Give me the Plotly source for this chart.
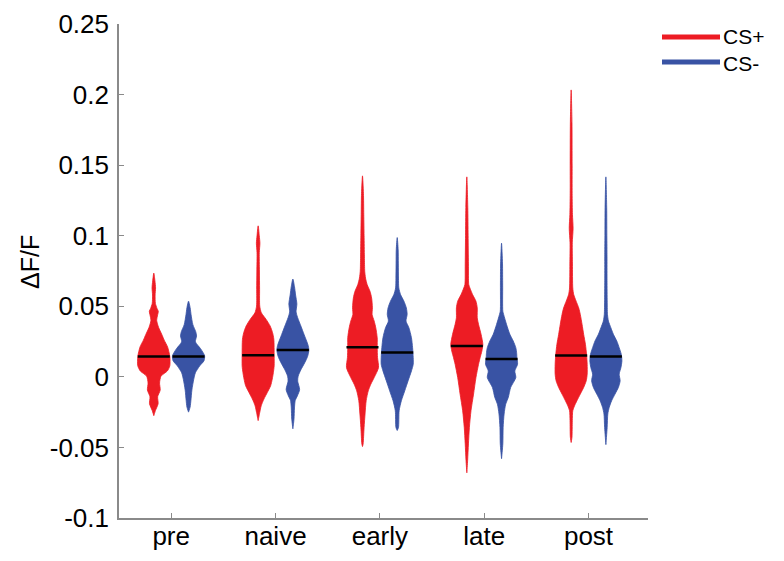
import plotly.graph_objects as go

# Imaging phases on the x axis
phases = ["pre", "naive", "early", "late", "post"]

# y axis ticks
y_ticks = [0.25, 0.2, 0.15, 0.1, 0.05, 0, -0.05, -0.1]
y_tick_text = ["0.25", "0.2", "0.15", "0.1", "0.05", "0", "-0.05", "-0.1"]

# Median ΔF/F per phase
median_cs_plus = [0.0144, 0.0153, 0.0209, 0.0219, 0.0151]
median_cs_minus = [0.0144, 0.0190, 0.0173, 0.0127, 0.0144]

# Violin outlines: ΔF/F levels (top to bottom) and relative density (0..1) at each level
cs_plus_levels = [
    [0.0735, 0.068, 0.063, 0.058, 0.052, 0.0485, 0.0465, 0.044, 0.040, 0.035, 0.030, 0.026,
     0.0212, 0.0144, 0.0078, 0.0041, 0.0005, -0.0044, -0.0093, -0.0141, -0.019, -0.0239, -0.0275],
    [0.107, 0.100, 0.0947, 0.088, 0.075, 0.062, 0.0501, 0.0454, 0.0407, 0.036, 0.0313, 0.0266,
     0.0148, 0.0078, 0.003, -0.0016, -0.0063, -0.0111, -0.0157, -0.0205, -0.0252, -0.031],
    [0.1424, 0.130, 0.115, 0.100, 0.085, 0.0748, 0.070, 0.0654, 0.0606, 0.0559, 0.0489, 0.0442,
     0.0395, 0.0348, 0.0277, 0.0207, 0.0136, 0.0066, -0.0005, -0.0052, -0.0099, -0.0169,
     -0.0263, -0.0358, -0.0475, -0.0494],
    [0.1417, 0.120, 0.100, 0.080, 0.0654, 0.063, 0.0583, 0.0536, 0.0489, 0.0418, 0.0372, 0.0301,
     0.0231, 0.0183, 0.0136, 0.0089, -0.0005, -0.0122, -0.024, -0.0358, -0.0475, -0.0592, -0.068],
    [0.2033, 0.180, 0.150, 0.130, 0.115, 0.1053, 0.095, 0.080, 0.063, 0.0583, 0.0536, 0.0489,
     0.0442, 0.0372, 0.0301, 0.0231, 0.016, 0.0089, 0.0019, -0.0028, -0.0075, -0.0122, -0.0169,
     -0.0205, -0.024, -0.031, -0.0428, -0.0465],
]
cs_plus_density = [
    [0, 0.07, 0.11, 0.08, 0.10, 0.20, 0.28, 0.24, 0.18, 0.30, 0.50, 0.65,
     0.86, 1.0, 1.0, 0.84, 0.45, 0.36, 0.40, 0.24, 0.27, 0.10, 0],
    [0, 0.07, 0.11, 0.07, 0.08, 0.09, 0.10, 0.20, 0.50, 0.75, 0.90, 0.98,
     1.0, 1.0, 0.95, 0.88, 0.78, 0.57, 0.36, 0.19, 0.10, 0],
    [0, 0.06, 0.08, 0.10, 0.12, 0.14, 0.19, 0.29, 0.47, 0.57, 0.62, 0.60,
     0.73, 0.83, 0.92, 0.92, 0.94, 1.0, 0.73, 0.52, 0.36, 0.23, 0.16, 0.10, 0.04, 0],
    [0, 0.06, 0.08, 0.10, 0.12, 0.19, 0.36, 0.57, 0.65, 0.65, 0.73, 0.89,
     1.0, 0.94, 0.83, 0.73, 0.57, 0.42, 0.26, 0.16, 0.10, 0.05, 0],
    [0, 0.05, 0.06, 0.06, 0.08, 0.12, 0.07, 0.08, 0.10, 0.16, 0.31, 0.47,
     0.57, 0.68, 0.78, 0.89, 0.96, 1.0, 1.0, 0.94, 0.78, 0.57, 0.36, 0.21, 0.10, 0.07, 0.05, 0],
]
cs_minus_levels = [
    [0.0536, 0.049, 0.044, 0.037, 0.032, 0.029, 0.0248, 0.020, 0.0151, 0.0115, 0.0078, 0.0029,
     -0.002, -0.0093, -0.0166, -0.0214, -0.025],
    [0.0693, 0.064, 0.058, 0.0516, 0.046, 0.0419, 0.036, 0.030, 0.0224, 0.019, 0.0145, 0.0102,
     0.005, 0.0005, -0.003, -0.009, -0.0135, -0.0166, -0.022, -0.030, -0.0368],
    [0.0987, 0.090, 0.080, 0.070, 0.063, 0.0583, 0.0536, 0.0489, 0.0442, 0.0395, 0.0348, 0.0277,
     0.0207, 0.0136, 0.0089, 0.0042, -0.0028, -0.0099, -0.0169, -0.024, -0.0358, -0.038],
    [0.0947, 0.080, 0.065, 0.0465, 0.0442, 0.0372, 0.0301, 0.0254, 0.0207, 0.0172, 0.0136, 0.0089,
     0.0042, -0.0005, -0.0075, -0.0146, -0.0193, -0.0263, -0.0358, -0.0475, -0.058],
    [0.1417, 0.120, 0.100, 0.085, 0.070, 0.055, 0.0442, 0.0395, 0.0348, 0.0301, 0.0254, 0.0207,
     0.016, 0.0113, 0.0066, 0.0019, -0.0028, -0.0075, -0.0122, -0.0169, -0.0216, -0.0263,
     -0.0358, -0.048],
]
cs_minus_density = [
    [0, 0.10, 0.16, 0.27, 0.45, 0.50, 0.43, 0.75, 1.0, 0.97, 0.70, 0.43,
     0.32, 0.21, 0.15, 0.10, 0],
    [0, 0.10, 0.17, 0.25, 0.20, 0.30, 0.50, 0.70, 0.95, 1.0, 0.92, 0.75,
     0.50, 0.33, 0.30, 0.42, 0.28, 0.15, 0.10, 0.07, 0],
    [0, 0.06, 0.07, 0.08, 0.10, 0.21, 0.42, 0.57, 0.62, 0.55, 0.73, 0.89,
     0.96, 1.0, 1.0, 0.89, 0.68, 0.47, 0.26, 0.12, 0.08, 0],
    [0, 0.06, 0.07, 0.08, 0.13, 0.31, 0.52, 0.73, 0.89, 0.94, 0.96, 1.0,
     0.83, 0.89, 0.57, 0.42, 0.26, 0.16, 0.10, 0.08, 0],
    [0, 0.05, 0.06, 0.07, 0.07, 0.08, 0.10, 0.16, 0.31, 0.47, 0.68, 0.83,
     0.96, 1.0, 0.94, 0.83, 0.89, 0.78, 0.57, 0.36, 0.21, 0.12, 0.08, 0],
]

RED = "#ED1C24"
BLUE = "#3953A4"
AXIS_GREY = "#8a8a8a"
FONT = "Liberation Sans, Arial, sans-serif"

half_width = 0.1535   # max half-width of a violin (x units)
offset = 0.1664       # side-by-side shift of each condition from the phase tick

fig = go.Figure()


def add_violin(center, levels, density, color):
    right_x = [center + d * half_width for d in density]
    left_x = [center - d * half_width for d in reversed(density)]
    xs = right_x + left_x
    ys = list(levels) + list(reversed(levels))
    fig.add_trace(go.Scatter(
        x=xs, y=ys, mode="lines", fill="toself", fillcolor=color,
        line=dict(color=color, width=0.8, shape="spline", smoothing=0.7),
        hoverinfo="skip", showlegend=False,
    ))


def add_median(center, value):
    fig.add_trace(go.Scatter(
        x=[center - half_width, center + half_width], y=[value, value],
        mode="lines", line=dict(color="black", width=2.5),
        hoverinfo="skip", showlegend=False,
    ))


for i in range(len(phases)):
    pos = i + 1
    add_violin(pos - offset, cs_plus_levels[i], cs_plus_density[i], RED)
    add_violin(pos + offset, cs_minus_levels[i], cs_minus_density[i], BLUE)
for i in range(len(phases)):
    pos = i + 1
    add_median(pos - offset, median_cs_plus[i])
    add_median(pos + offset, median_cs_minus[i])

plot_left, plot_right, plot_top, plot_bottom = 119, 136, 24, 43
plot_w = 784 - plot_left - plot_right
plot_h = 561 - plot_top - plot_bottom


def px_x(px):
    return (px - plot_left) / plot_w


def px_y(py):
    return (561 - plot_bottom - py) / plot_h


# Legend keys and labels
legend_keys = [(RED, 37), (BLUE, 62)]
shapes = []
for color, py in legend_keys:
    shapes.append(dict(type="line", xref="paper", yref="paper",
                       x0=px_x(662), x1=px_x(720), y0=px_y(py), y1=px_y(py),
                       line=dict(color=color, width=5)))

annotations = [
    dict(text="CS+<br>CS-", xref="paper", yref="paper",
         x=px_x(721), y=px_y(49.5), xanchor="left", yanchor="middle", align="left",
         showarrow=False, font=dict(family=FONT, size=21, color="black")),
    dict(text="ΔF/F", xref="paper", yref="paper",
         x=px_x(30), y=px_y(262), xanchor="center", yanchor="middle",
         textangle=-90, showarrow=False,
         font=dict(family=FONT, size=25, color="black")),
]

fig.update_layout(
    width=784, height=561, autosize=False,
    margin=dict(l=plot_left, r=plot_right, t=plot_top, b=plot_bottom, pad=0),
    paper_bgcolor="white", plot_bgcolor="white",
    font=dict(family=FONT, size=26, color="black"),
    shapes=shapes, annotations=annotations,
    xaxis=dict(
        range=[0.5, 5.57], tickvals=[1, 2, 3, 4, 5], ticktext=phases, automargin=False,
        showgrid=False, zeroline=False, showline=True, linecolor=AXIS_GREY, linewidth=1.6,
        ticks="inside", ticklen=5, tickwidth=1.2, tickcolor=AXIS_GREY,
        tickfont=dict(family=FONT, size=26, color="black"), ticklabelstandoff=-6,
    ),
    yaxis=dict(
        range=[-0.1, 0.25], tickvals=y_ticks, ticktext=y_tick_text, automargin=False,
        showgrid=False, zeroline=False, showline=True, linecolor=AXIS_GREY, linewidth=1.6,
        ticks="inside", ticklen=5, tickwidth=1.2, tickcolor=AXIS_GREY,
        tickfont=dict(family=FONT, size=26, color="black"), ticklabelstandoff=3,
    ),
)

fig.write_html("out.html")
